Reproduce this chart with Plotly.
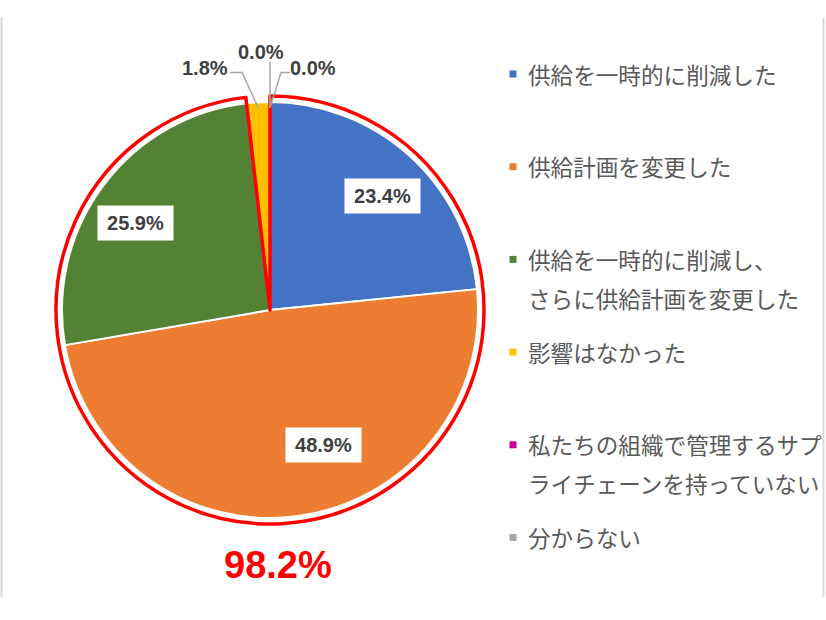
import math
import plotly.graph_objects as go

# ---------------- data ----------------
labels = [
    "供給を一時的に削減した",
    "供給計画を変更した",
    "供給を一時的に削減し、\nさらに供給計画を変更した",
    "影響はなかった",
    "私たちの組織で管理するサプ\nライチェーンを持っていない",
    "分からない",
]
values = [23.4, 48.9, 25.9, 1.8, 0.0, 0.0]
colors = ["#4472C4", "#ED7D31", "#548235", "#FFC000", "#CC0099", "#A5A5A5"]
highlight_n = 3  # first three slices are circled in red

# ---------------- layout constants ----------------
W, H = 826, 620
CX, CY, R = 270, 310, 208     # pie centre / radius in px
RR = 214                      # red outline radius
LABEL_COLOR = "#404040"
LEGEND_COLOR = "#595959"
NUM_FONT = "Liberation Sans, Arial, sans-serif"
JP_FONT = "Noto Sans CJK JP, sans-serif"

def px(x):
    return x / W

def py(y):
    return 1 - y / H

total = sum(values)
hl_total = sum(values[:highlight_n])
rest_total = total - hl_total

fig = go.Figure()

fig.add_trace(go.Pie(
    labels=[l.replace("\n", "") for l in labels],
    values=values,
    sort=False,
    direction="clockwise",
    rotation=0,
    marker=dict(colors=colors, line=dict(color="white", width=2)),
    textinfo="none",
    hoverinfo="label+percent",
    showlegend=False,
    domain=dict(x=[px(CX - R), px(CX + R)], y=[py(CY + R), py(CY - R)]),
))

# red outline around the highlighted share
fig.add_trace(go.Pie(
    labels=["highlight", "rest"],
    values=[hl_total, rest_total],
    sort=False,
    direction="clockwise",
    rotation=0,
    marker=dict(colors=["rgba(0,0,0,0)", "rgba(0,0,0,0)"],
                line=dict(color=["#FF0000", "rgba(0,0,0,0)"], width=3.5)),
    textinfo="none",
    hoverinfo="skip",
    showlegend=False,
    domain=dict(x=[px(CX - RR), px(CX + RR)], y=[py(CY + RR), py(CY - RR)]),
))

annotations = []
shapes = []

# slice mid angles (clockwise from 12 o'clock)
cum = 0.0
mids = []
for v in values:
    mids.append((cum + v / 2) / total * 360.0)
    cum += v

def polar(angle_deg, dist):
    a = math.radians(angle_deg)
    return CX + dist * math.sin(a), CY - dist * math.cos(a)

# inside labels (angle offset, distance) for large slices
inside_style = {0: (2.6, 160), 1: (-13.7, 145.5), 2: (-3.8, 160)}
for i, (dang, dist) in inside_style.items():
    x, y = polar(mids[i] + dang, dist)
    annotations.append(dict(
        x=px(x), y=py(y), xref="paper", yref="paper",
        text=f"<b>{values[i]:.1f}%</b>", showarrow=False,
        font=dict(family=NUM_FONT, size=20, color=LABEL_COLOR),
        bgcolor="white", width=73, height=32,
        xanchor="center", yanchor="middle",
    ))

# outside labels for tiny slices: text position and leader elbow points
outside_style = {
    3: ((204.5, 68), [(230, 72.5), (242, 72.5)]),
    4: ((260.5, 52), [(270, 62)]),
    5: ((313, 68), [(290, 72.5), (281, 72.5)]),
}
for i, ((tx, ty), elbows) in outside_style.items():
    annotations.append(dict(
        x=px(tx), y=py(ty), xref="paper", yref="paper",
        text=f"<b>{values[i]:.1f}%</b>", showarrow=False,
        font=dict(family=NUM_FONT, size=20, color=LABEL_COLOR),
        xanchor="center", yanchor="middle",
    ))
    ax, ay = polar(mids[i], R - 6)
    pts = elbows + [(ax, ay)]
    path = "M " + " L ".join(f"{px(x):.5f},{py(y):.5f}" for x, y in pts)
    shapes.append(dict(type="path", path=path, xref="paper", yref="paper",
                       line=dict(color="#A6A6A6", width=1.5)))

# big highlighted total
annotations.append(dict(
    x=px(277.5), y=py(565), xref="paper", yref="paper",
    text=f"<b>{hl_total:.1f}%</b>", showarrow=False,
    font=dict(family=NUM_FONT, size=38, color="#FF0000"),
    xanchor="center", yanchor="middle",
))

# custom legend
LEG_X_MARK, LEG_X_TEXT = 513, 526
LEG_Y0, LEG_DY, LINE_DY = 74, 92.7, 39
for i, (lab, col) in enumerate(zip(labels, colors)):
    y0 = LEG_Y0 + i * LEG_DY
    shapes.append(dict(type="rect", xref="paper", yref="paper",
                       x0=px(LEG_X_MARK - 3.5), x1=px(LEG_X_MARK + 3.5),
                       y0=py(y0 + 3.5), y1=py(y0 - 3.5),
                       fillcolor=col, line=dict(width=0)))
    for j, line in enumerate(lab.split("\n")):
        annotations.append(dict(
            x=px(LEG_X_TEXT), y=py(y0 + j * LINE_DY), xref="paper", yref="paper",
            text=line, showarrow=False,
            font=dict(family=JP_FONT, size=22.6, color=LEGEND_COLOR),
            xanchor="left", yanchor="middle",
        ))

# faint frame lines
for xf in (1.5, 823.5):
    shapes.append(dict(type="line", xref="paper", yref="paper",
                       x0=px(xf), x1=px(xf), y0=py(18), y1=py(597),
                       line=dict(color="#D9D9D9", width=2)))

fig.update_layout(
    width=W, height=H,
    margin=dict(l=0, r=0, t=0, b=0),
    paper_bgcolor="white",
    plot_bgcolor="white",
    annotations=annotations,
    shapes=shapes,
    showlegend=False,
)

fig.write_html("out.html")
